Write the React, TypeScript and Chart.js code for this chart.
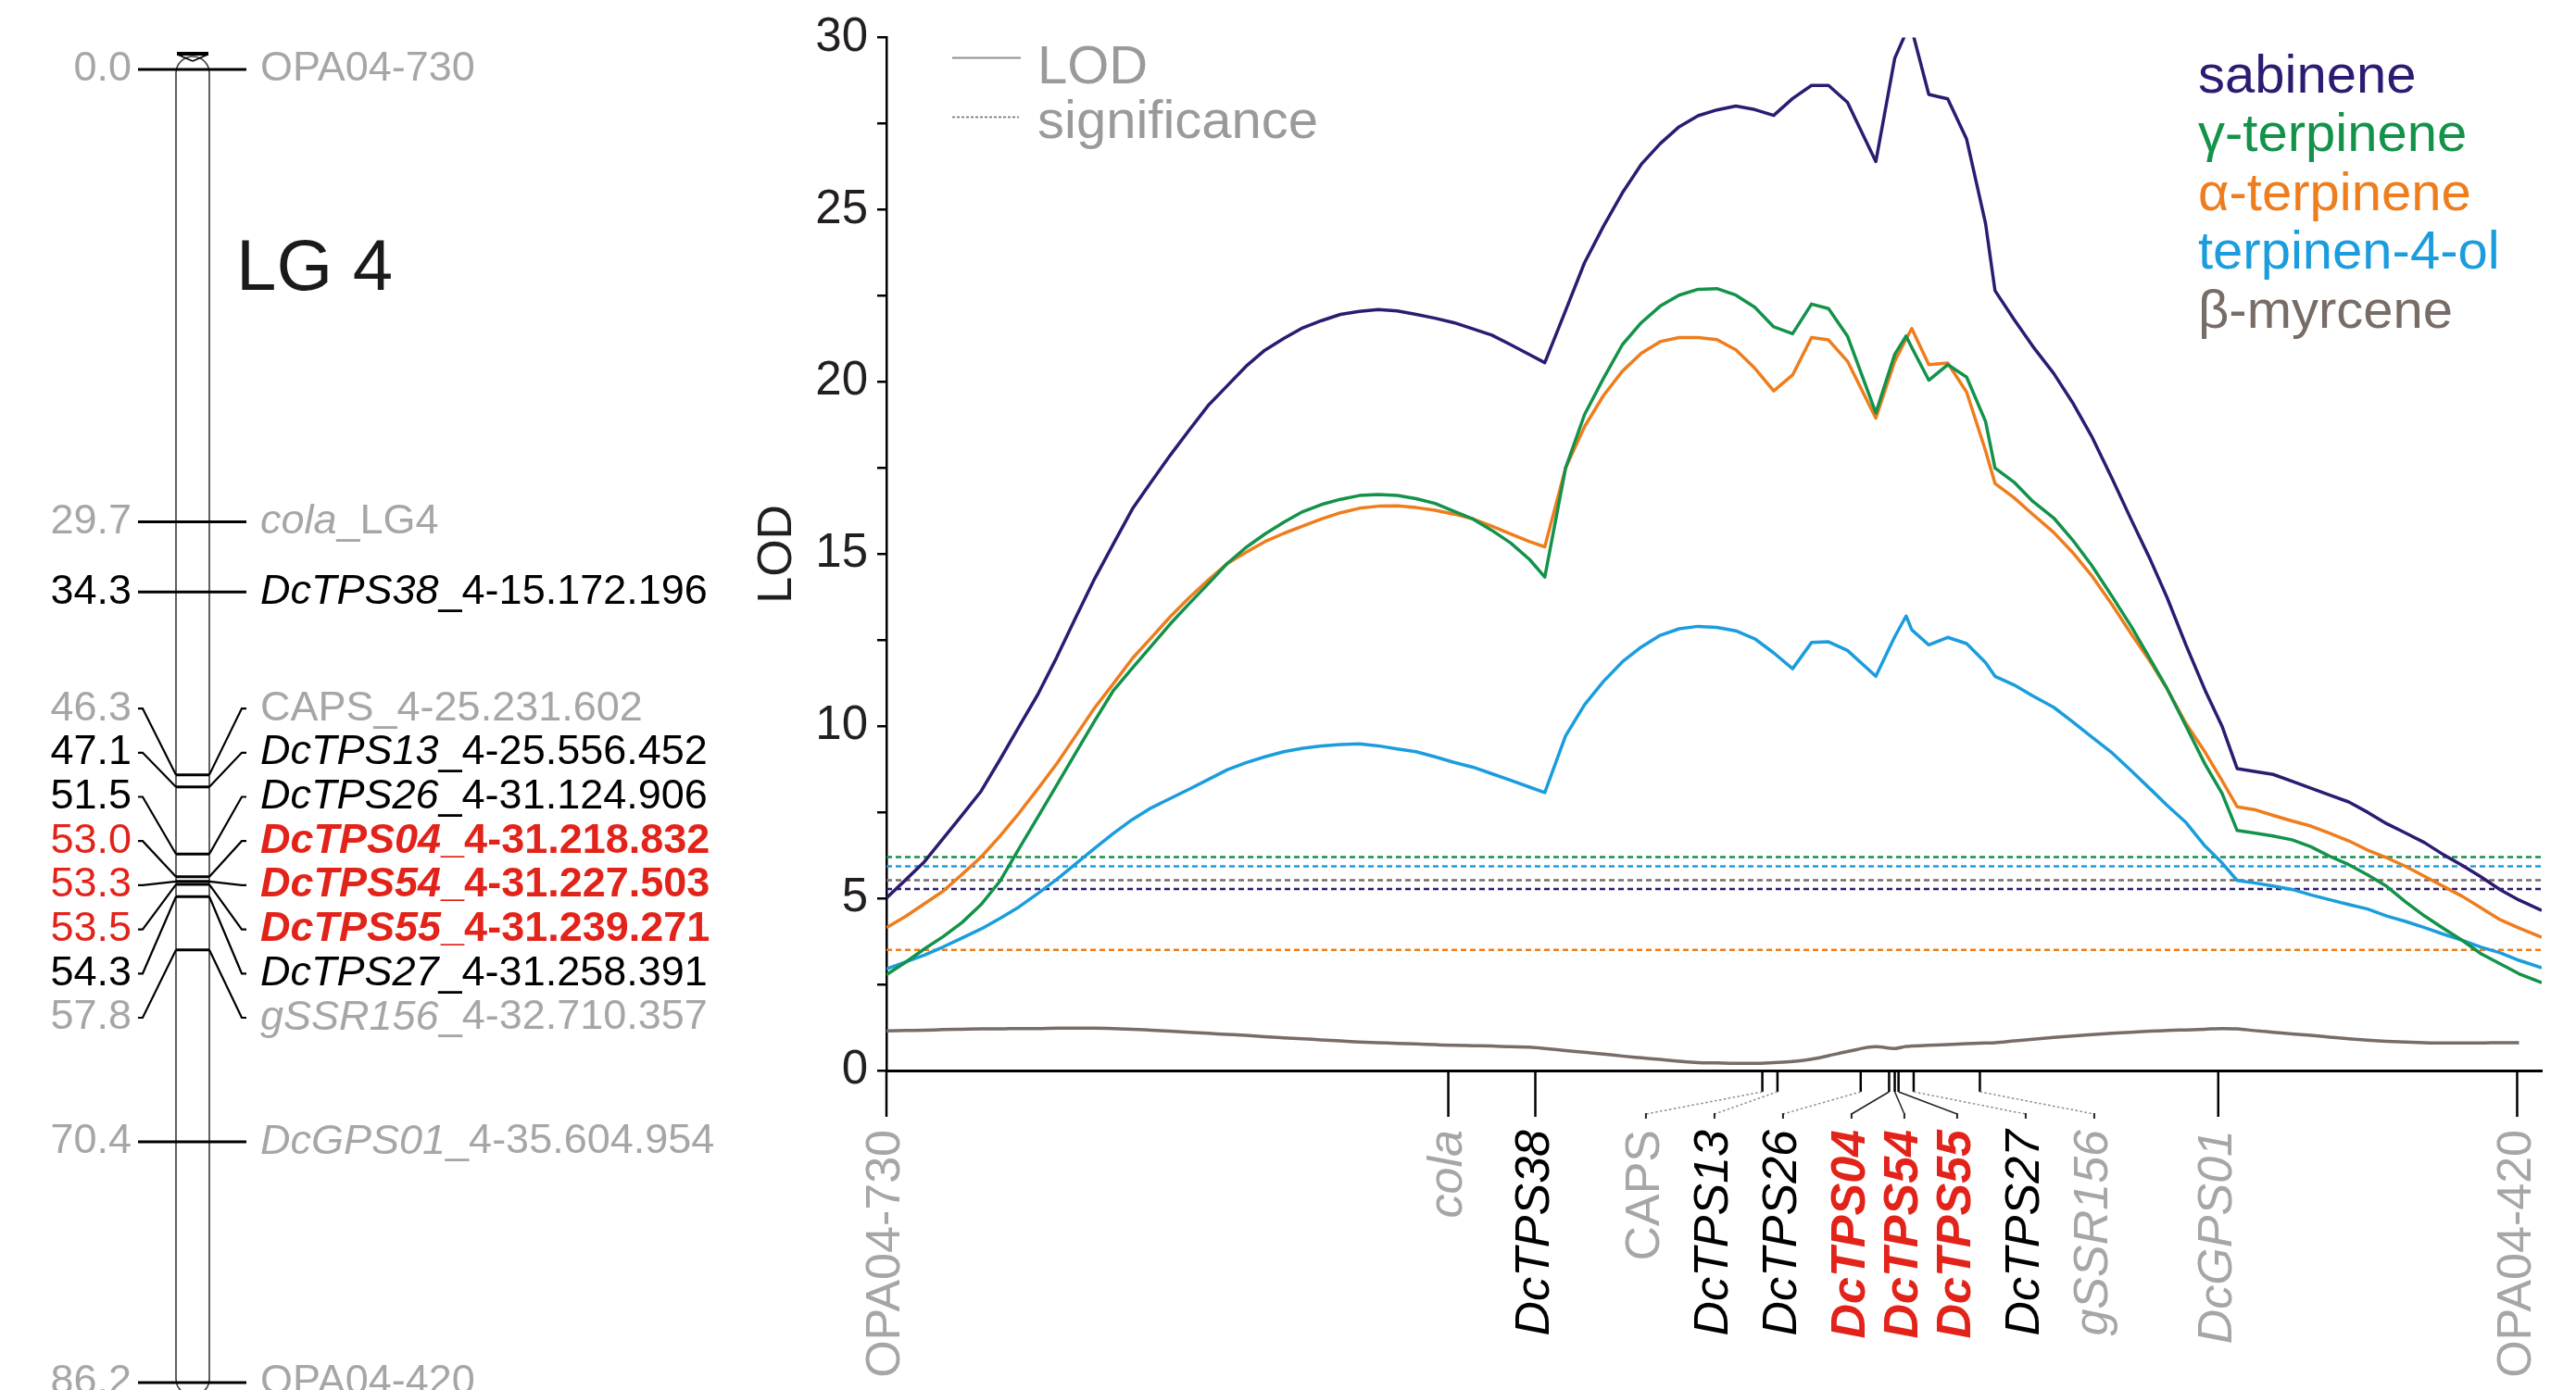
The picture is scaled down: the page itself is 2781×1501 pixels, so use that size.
import React, { useEffect, useRef } from 'react';
import { Chart, registerables } from 'chart.js';

Chart.register(...registerables);

const FONT = '"Liberation Sans", Arial, Helvetica, sans-serif';

// ---------- QTL scan data (cM positions and LOD values) ----------
const positions = [
  0, 1, 2, 3, 4, 5, 6, 7, 8, 9, 10, 11, 12, 13, 14, 15, 16, 17, 18, 19, 20, 21, 22, 23, 24, 25, 26, 27, 28, 29, 30, 31, 32, 33, 34,
  34.8, 35.9, 36.9, 37.9, 38.9, 39.9, 40.9, 41.9, 42.9, 43.9,
  44.9, 45.9, 46.9, 47.9, 48.9, 49.8, 50.8, 52.3, 53.3, 53.9,
  54.2, 55.1, 56.1, 57.1, 58.1, 58.6, 59.6, 60.6, 61.7, 62.7,
  63.7, 64.8, 65.8, 66.8, 67.7, 68.7, 69.7, 70.6, 71.4, 72.3,
  73.3, 74.3, 75.3, 76.3, 77.3, 78.3, 79.3, 80.3, 81.3, 82.3,
  83.3, 84.3, 85.3, 86.3, 87.5,
];

const sabinene = [
  5.01, 5.53, 6.06, 6.74, 7.42, 8.11, 9.03, 9.98, 10.92, 12.0, 13.15, 14.28, 15.3, 16.31, 17.1, 17.87, 18.6, 19.31, 19.88, 20.45,
  20.92, 21.26, 21.57, 21.78, 21.96, 22.05, 22.1, 22.06, 21.96, 21.85, 21.72, 21.54, 21.36, 21.08, 20.79,
  20.56, 22.07, 23.46, 24.52, 25.49, 26.32, 26.92, 27.41, 27.73, 27.9,
  28.01, 27.91, 27.74, 28.23, 28.61, 28.61, 28.12, 26.4, 29.4, 30.15,
  30.24, 28.35, 28.22, 27.05, 24.6, 22.65, 21.82, 21.03, 20.25, 19.4,
  18.43, 17.18, 16.0, 14.85, 13.73, 12.35, 11.05, 10.0, 8.77, 8.69,
  8.6, 8.4, 8.2, 8.0, 7.8, 7.5, 7.17, 6.9, 6.62, 6.27,
  5.96, 5.62, 5.25, 4.95, 4.65,
];

const gammaTerpinene = [
  2.78, 3.14, 3.53, 3.89, 4.3, 4.82, 5.5, 6.44, 7.36, 8.29, 9.22, 10.15, 11.04, 11.69, 12.33, 12.97, 13.56, 14.13, 14.72, 15.19,
  15.58, 15.92, 16.23, 16.44, 16.59, 16.7, 16.73, 16.7, 16.61, 16.47, 16.24, 16.02, 15.69, 15.32, 14.84,
  14.33, 17.5, 19.05, 20.1, 21.08, 21.72, 22.2, 22.52, 22.69, 22.71,
  22.52, 22.17, 21.6, 21.4, 22.26, 22.13, 21.33, 19.1, 20.8, 21.33,
  21.0, 20.05, 20.5, 20.14, 18.85, 17.5, 17.09, 16.53, 16.05, 15.41,
  14.68, 13.76, 12.9, 11.95, 11.09, 10.0, 8.9, 8.05, 6.97, 6.9,
  6.81, 6.7, 6.5, 6.22, 5.98, 5.68, 5.35, 4.9, 4.49, 4.13,
  3.78, 3.39, 3.1, 2.81, 2.55,
];

const alphaTerpinene = [
  4.15, 4.47, 4.84, 5.21, 5.7, 6.2, 6.81, 7.47, 8.18, 8.91, 9.72, 10.53, 11.24, 11.97, 12.57, 13.18, 13.73, 14.24, 14.72, 15.05,
  15.36, 15.6, 15.81, 16.02, 16.2, 16.33, 16.39, 16.4, 16.35, 16.27, 16.16, 16.02, 15.81, 15.58, 15.36,
  15.21, 17.5, 18.7, 19.6, 20.31, 20.83, 21.17, 21.29, 21.29, 21.23,
  20.93, 20.4, 19.74, 20.2, 21.29, 21.22, 20.6, 18.95, 20.6, 21.25,
  21.55, 20.5, 20.55, 19.7, 18.0, 17.05, 16.64, 16.15, 15.63, 15.05,
  14.38, 13.52, 12.68, 11.88, 11.08, 10.07, 9.25, 8.42, 7.66, 7.58,
  7.41, 7.25, 7.1, 6.89, 6.67, 6.4, 6.18, 5.93, 5.64, 5.35,
  5.06, 4.72, 4.38, 4.14, 3.87,
];

const terpinen4ol = [
  2.95, 3.15, 3.35, 3.59, 3.85, 4.11, 4.42, 4.75, 5.14, 5.55, 6.0, 6.45, 6.89, 7.29, 7.63, 7.9, 8.17, 8.45, 8.73, 8.94,
  9.11, 9.26, 9.36, 9.43, 9.47, 9.49, 9.43, 9.34, 9.26, 9.11, 8.95, 8.81, 8.62, 8.43, 8.23,
  8.07, 9.72, 10.62, 11.3, 11.87, 12.3, 12.64, 12.83, 12.9, 12.87,
  12.77, 12.54, 12.13, 11.67, 12.43, 12.45, 12.2, 11.45, 12.6, 13.2,
  12.8, 12.36, 12.58, 12.4, 11.85, 11.45, 11.2, 10.88, 10.55, 10.13,
  9.69, 9.22, 8.71, 8.18, 7.7, 7.2, 6.52, 6.03, 5.52, 5.45,
  5.36, 5.26, 5.1, 4.96, 4.82, 4.69, 4.49, 4.33, 4.15, 3.96,
  3.78, 3.58, 3.42, 3.2, 2.98,
];

const betaMyrcene = [
  1.15, 1.16, 1.17, 1.19, 1.2, 1.21, 1.21, 1.22, 1.22, 1.23, 1.23, 1.23, 1.22, 1.2, 1.17, 1.14, 1.11, 1.08, 1.05, 1.02,
  0.98, 0.95, 0.92, 0.89, 0.86, 0.83, 0.81, 0.79, 0.77, 0.75, 0.73, 0.72, 0.71, 0.69, 0.68,
  0.64, 0.58, 0.53, 0.48, 0.42, 0.37, 0.32, 0.27, 0.23, 0.22,
  0.21, 0.21, 0.23, 0.26, 0.33, 0.43, 0.55, 0.69, 0.64, 0.7,
  0.71, 0.73, 0.75, 0.78, 0.8, 0.81, 0.86, 0.91, 0.96, 1.0,
  1.04, 1.08, 1.11, 1.14, 1.16, 1.18, 1.2, 1.22, 1.21, 1.16,
  1.11, 1.06, 1.02, 0.97, 0.92, 0.88, 0.85, 0.83, 0.81, 0.8,
  0.8, 0.8, 0.81, 0.81, null,
];

const seriesNames = ['sabinene', 'γ-terpinene', 'α-terpinene', 'terpinen-4-ol', 'β-myrcene'];
const seriesColors = ['#2d1b72', '#13924a', '#ee7d1d', '#1b9ddd', '#786c66'];
const seriesValues = [sabinene, gammaTerpinene, alphaTerpinene, terpinen4ol, betaMyrcene];
const significance = [5.27, 6.2, 3.5, 5.93, 5.53];

const keyLabels = ['LOD', 'significance'];
const yAxisTitle = 'LOD';
const yMin = 0;
const yMax = 30;
const yStep = 2.5;
const yLabelStep = 5;
const xMax = 87.5;

// ---------- Linkage group markers ----------
const linkageGroup = 'LG 4';
const markerCm = [0.0, 29.7, 34.3, 46.3, 47.1, 51.5, 53.0, 53.3, 53.5, 54.3, 57.8, 70.4, 86.2];
const markerNames = ['OPA04-730', 'cola', 'DcTPS38', 'CAPS', 'DcTPS13', 'DcTPS26', 'DcTPS04', 'DcTPS54', 'DcTPS55', 'DcTPS27', 'gSSR156', 'DcGPS01', 'OPA04-420'];
const markerSuffixes = ['', '_LG4', '_4-15.172.196', '_4-25.231.602', '_4-25.556.452', '_4-31.124.906', '_4-31.218.832', '_4-31.227.503', '_4-31.239.271', '_4-31.258.391', '_4-32.710.357', '_4-35.604.954', ''];
const markerItalic = [false, true, true, false, true, true, true, true, true, true, true, true, false];
const markerGroup = ['other', 'other', 'tps', 'other', 'tps', 'tps', 'candidate', 'candidate', 'candidate', 'tps', 'other', 'other', 'other'];
const groupColors: Record<string, string> = { other: '#a6a6a6', tps: '#000000', candidate: '#e2231a' };

// ---------- helpers ----------
// spreads labels apart; gapFn(i) = required distance between label i and label i+1
function spread(pos: number[], gapFn: (i: number) => number) {
  const offsets = (s: number, e: number) => {
    const o: number[] = [0];
    for (let k = s; k < e; k++) o.push(o[o.length - 1] + gapFn(k));
    const mean = o.reduce((a, b) => a + b, 0) / o.length;
    return o.map((v) => v - mean);
  };
  let groups = pos.map((p, i) => ({ s: i, e: i, c: p }));
  let changed = true;
  while (changed) {
    changed = false;
    for (let g = 0; g < groups.length - 1; g++) {
      const a = groups[g];
      const b = groups[g + 1];
      const aOff = offsets(a.s, a.e);
      const bOff = offsets(b.s, b.e);
      const aEnd = a.c + aOff[aOff.length - 1];
      const bStart = b.c + bOff[0];
      if (bStart - aEnd < gapFn(a.e) - 0.01) {
        const s = a.s;
        const e = b.e;
        let sum = 0;
        for (let k = s; k <= e; k++) sum += pos[k];
        groups.splice(g, 2, { s, e, c: sum / (e - s + 1) });
        changed = true;
        break;
      }
    }
  }
  const out: number[] = new Array(pos.length).fill(0);
  const moved: boolean[] = new Array(pos.length).fill(false);
  groups.forEach((g) => {
    const off = offsets(g.s, g.e);
    for (let k = g.s; k <= g.e; k++) {
      out[k] = g.c + off[k - g.s];
      moved[k] = g.e > g.s;
    }
  });
  return { out, moved };
}

function seg(ctx: CanvasRenderingContext2D, x1: number, y1: number, x2: number, y2: number) {
  ctx.beginPath();
  ctx.moveTo(x1, y1);
  ctx.lineTo(x2, y2);
  ctx.stroke();
}

function nameFont(i: number, size: number, suffix: boolean) {
  const bold = markerGroup[i] === 'candidate' ? 'bold ' : '';
  const italic = !suffix && markerItalic[i] ? 'italic ' : '';
  return `${italic}${bold}${size}px ${FONT}`;
}

// ---------- plugins ----------
const CHROM_CENTER = 208;
const CHROM_HALF = 18;

const mapPlugin = {
  id: 'linkageMap',
  beforeDatasetsDraw(chart: any) {
    const { ctx, scales } = chart;
    const cx = scales.x.getPixelForValue(CHROM_CENTER);
    const yTop = scales.y.getPixelForValue(markerCm[0]);
    const yBot = scales.y.getPixelForValue(markerCm[markerCm.length - 1]);
    ctx.save();
    ctx.strokeStyle = '#3a3a3a';
    ctx.lineWidth = 1.6;
    ctx.beginPath();
    ctx.moveTo(cx - CHROM_HALF, yBot - 4);
    ctx.lineTo(cx - CHROM_HALF, yTop + 4);
    ctx.arc(cx, yTop + 4, CHROM_HALF, Math.PI, 0);
    ctx.lineTo(cx + CHROM_HALF, yBot - 4);
    ctx.arc(cx, yBot - 4, CHROM_HALF, 0, Math.PI);
    ctx.closePath();
    ctx.stroke();
    ctx.lineWidth = 4;
    ctx.strokeStyle = '#000';
    seg(ctx, cx - CHROM_HALF + 1, yTop - 17, cx + CHROM_HALF - 1, yTop - 17);
    ctx.lineWidth = 1.6;
    seg(ctx, cx - CHROM_HALF + 2, yTop - 16, cx, yTop - 9);
    seg(ctx, cx + CHROM_HALF - 2, yTop - 16, cx, yTop - 9);
    ctx.restore();
  },
  afterDraw(chart: any) {
    const { ctx, scales } = chart;
    const cx = scales.x.getPixelForValue(CHROM_CENTER);
    const py = markerCm.map((v) => scales.y.getPixelForValue(v));
    const { out, moved } = spread(py, () => 47.7);
    ctx.save();
    ctx.strokeStyle = '#000';
    ctx.lineCap = 'butt';
    markerCm.forEach((cm, i) => {
      const y = py[i];
      const ly = out[i];
      if (!moved[i]) {
        ctx.lineWidth = 3;
        seg(ctx, cx - 59, y, cx - CHROM_HALF, y);
        seg(ctx, cx + CHROM_HALF, y, cx + 58, y);
      } else {
        ctx.lineWidth = 2.2;
        ctx.beginPath();
        ctx.moveTo(cx - 59, ly);
        ctx.lineTo(cx - 54, ly);
        ctx.lineTo(cx - CHROM_HALF, y);
        ctx.stroke();
        ctx.beginPath();
        ctx.moveTo(cx + CHROM_HALF, y);
        ctx.lineTo(cx + 53, ly);
        ctx.lineTo(cx + 58, ly);
        ctx.stroke();
      }
      const color = groupColors[markerGroup[i]];
      ctx.textBaseline = 'middle';
      ctx.textAlign = 'right';
      ctx.font = `45px ${FONT}`;
      ctx.fillStyle = color;
      ctx.fillText(cm.toFixed(1), cx - 66, ly);
      ctx.textAlign = 'left';
      let tx = cx + 73;
      ctx.font = nameFont(i, 45, false);
      ctx.fillText(markerNames[i], tx, ly);
      tx += ctx.measureText(markerNames[i]).width;
      if (markerSuffixes[i]) {
        ctx.font = nameFont(i, 45, true);
        ctx.fillText(markerSuffixes[i], tx, ly);
      }
    });
    ctx.font = `78px ${FONT}`;
    ctx.fillStyle = '#1a1a1a';
    ctx.textAlign = 'left';
    ctx.textBaseline = 'alphabetic';
    ctx.fillText(linkageGroup, cx + 47, 313);
    ctx.restore();
  },
};

const axisGap = (i: number) =>
  markerGroup[i] === 'candidate' && markerGroup[i + 1] === 'candidate' ? 57 : 74;

const lodPlugin = {
  id: 'lodOverlay',
  afterDraw(chart: any) {
    const { ctx, chartArea: area, scales } = chart;
    const xs = scales.x;
    const base = area.bottom;
    const px = markerCm.map((v) => xs.getPixelForValue(v));
    const { out, moved } = spread(px, axisGap);
    ctx.save();
    ctx.lineCap = 'butt';
    markerNames.forEach((name, i) => {
      const x = px[i];
      const lx = out[i];
      const grp = markerGroup[i];
      ctx.setLineDash([]);
      ctx.strokeStyle = '#000';
      ctx.lineWidth = 2.5;
      seg(ctx, x, base, x, base + (moved[i] ? 23 : 50));
      if (moved[i]) {
        ctx.lineWidth = 1.5;
        if (grp === 'candidate') {
          ctx.strokeStyle = '#222';
          ctx.setLineDash([]);
        } else {
          ctx.strokeStyle = '#8c8c8c';
          ctx.setLineDash([2.5, 2.5]);
        }
        seg(ctx, x, base + 23, lx, base + 47);
        ctx.setLineDash([]);
        ctx.strokeStyle = '#222';
        ctx.lineWidth = 2;
        seg(ctx, lx, base + 46, lx, base + 52);
      }
      ctx.save();
      ctx.translate(lx, base + 64);
      ctx.rotate(-Math.PI / 2);
      ctx.textAlign = 'right';
      ctx.textBaseline = 'middle';
      ctx.font = nameFont(i, 52, false);
      ctx.fillStyle = groupColors[grp];
      ctx.fillText(name, 0, 0);
      ctx.restore();
    });

    // key: LOD / significance
    const kx = area.left + 71;
    ctx.setLineDash([]);
    ctx.strokeStyle = '#8f8f8f';
    ctx.lineWidth = 2;
    seg(ctx, kx, area.top + 22, kx + 74, area.top + 22);
    ctx.strokeStyle = '#666';
    ctx.lineWidth = 1.5;
    ctx.setLineDash([3, 2]);
    seg(ctx, kx, area.top + 86, kx + 72, area.top + 86);
    ctx.setLineDash([]);
    ctx.font = `58px ${FONT}`;
    ctx.fillStyle = '#9a9a9a';
    ctx.textAlign = 'left';
    ctx.textBaseline = 'alphabetic';
    ctx.fillText(keyLabels[0], area.left + 163, area.top + 49);
    ctx.fillText(keyLabels[1], area.left + 163, area.top + 108);

    // series legend
    ctx.font = `58px ${FONT}`;
    seriesNames.forEach((n, i) => {
      ctx.fillStyle = seriesColors[i];
      ctx.fillText(n, area.right - 371, area.top + 59 + i * 63.5);
    });
    ctx.restore();
  },
};

export default function App() {
  const mapRef = useRef<HTMLCanvasElement>(null);
  const lodRef = useRef<HTMLCanvasElement>(null);

  useEffect(() => {
    const mapChart = new Chart(mapRef.current as HTMLCanvasElement, {
      type: 'scatter',
      data: {
        datasets: [
          {
            label: 'markers',
            data: markerCm.map((cm) => ({ x: CHROM_CENTER, y: cm })),
            pointStyle: 'line',
            pointRadius: CHROM_HALF,
            borderColor: '#000',
            backgroundColor: '#000',
            borderWidth: 3,
            clip: false as any,
          },
        ],
      },
      options: {
        animation: false,
        responsive: false,
        devicePixelRatio: 1,
        events: [],
        layout: { autoPadding: false, padding: { top: 75, bottom: 8, left: 0, right: 0 } },
        plugins: { legend: { display: false }, tooltip: { enabled: false } },
        scales: {
          x: { type: 'linear', min: 0, max: 800, display: false },
          y: { type: 'linear', min: 0, max: 86.2, reverse: true, display: false },
        },
      },
      plugins: [mapPlugin],
    } as any);

    const curveSets = seriesNames.map((name, s) => ({
      label: name,
      data: positions.map((x, i) => ({ x, y: seriesValues[s][i] })),
      borderColor: seriesColors[s],
      backgroundColor: seriesColors[s],
      borderWidth: 3.5,
      pointRadius: 0,
      tension: s === 4 ? 0.4 : 0,
      cubicInterpolationMode: s === 4 ? 'monotone' : 'default',
      borderJoinStyle: 'round',
      fill: false,
      spanGaps: false,
    }));
    const sigSets = seriesNames.map((name, s) => ({
      label: name + ' significance',
      data: [
        { x: 0, y: significance[s] },
        { x: xMax, y: significance[s] },
      ],
      borderColor: seriesColors[s],
      borderWidth: 2.5,
      borderDash: [6, 4],
      pointRadius: 0,
      fill: false,
    }));

    const lodChart = new Chart(lodRef.current as HTMLCanvasElement, {
      type: 'line',
      data: { datasets: [...curveSets, ...sigSets] },
      options: {
        animation: false,
        responsive: false,
        devicePixelRatio: 1,
        events: [],
        layout: { autoPadding: false, padding: { left: 4, right: 37, top: 39, bottom: 345 } },
        plugins: { legend: { display: false }, tooltip: { enabled: false } },
        scales: {
          x: {
            type: 'linear',
            min: 0,
            max: xMax,
            display: true,
            grid: { display: false, drawTicks: false },
            ticks: { display: false },
            border: { display: true, color: '#000', width: 3 },
            afterFit: (s: any) => {
              s.height = 0;
            },
          },
          y: {
            type: 'linear',
            position: 'left',
            min: yMin,
            max: yMax,
            ticks: {
              stepSize: yStep,
              autoSkip: false,
              padding: 10,
              color: '#231f20',
              font: { size: 51, family: FONT },
              callback: (v: any) => (Number(v) % yLabelStep === 0 ? String(v) : ''),
            },
            grid: { drawOnChartArea: false, drawTicks: true, tickLength: 10, color: '#000', lineWidth: 2.5 },
            border: { display: true, color: '#000', width: 2.5 },
            title: {
              display: true,
              text: yAxisTitle,
              color: '#231f20',
              font: { size: 52, family: FONT },
              padding: { top: 4, bottom: 4 },
            },
            afterFit: (s: any) => {
              s.width = 153;
            },
          },
        },
      },
      plugins: [lodPlugin],
    } as any);

    return () => {
      mapChart.destroy();
      lodChart.destroy();
    };
  }, []);

  return (
    <div style={{ position: 'absolute', left: 0, top: 0, width: 2781, height: 1501, background: '#fff', overflow: 'hidden' }}>
      <canvas
        ref={mapRef}
        width={800}
        height={1501}
        style={{ position: 'absolute', left: 0, top: 0, width: 800, height: 1501, display: 'block' }}
      />
      <canvas
        ref={lodRef}
        width={1981}
        height={1501}
        style={{ position: 'absolute', left: 800, top: 0, width: 1981, height: 1501, display: 'block' }}
      />
    </div>
  );
}
